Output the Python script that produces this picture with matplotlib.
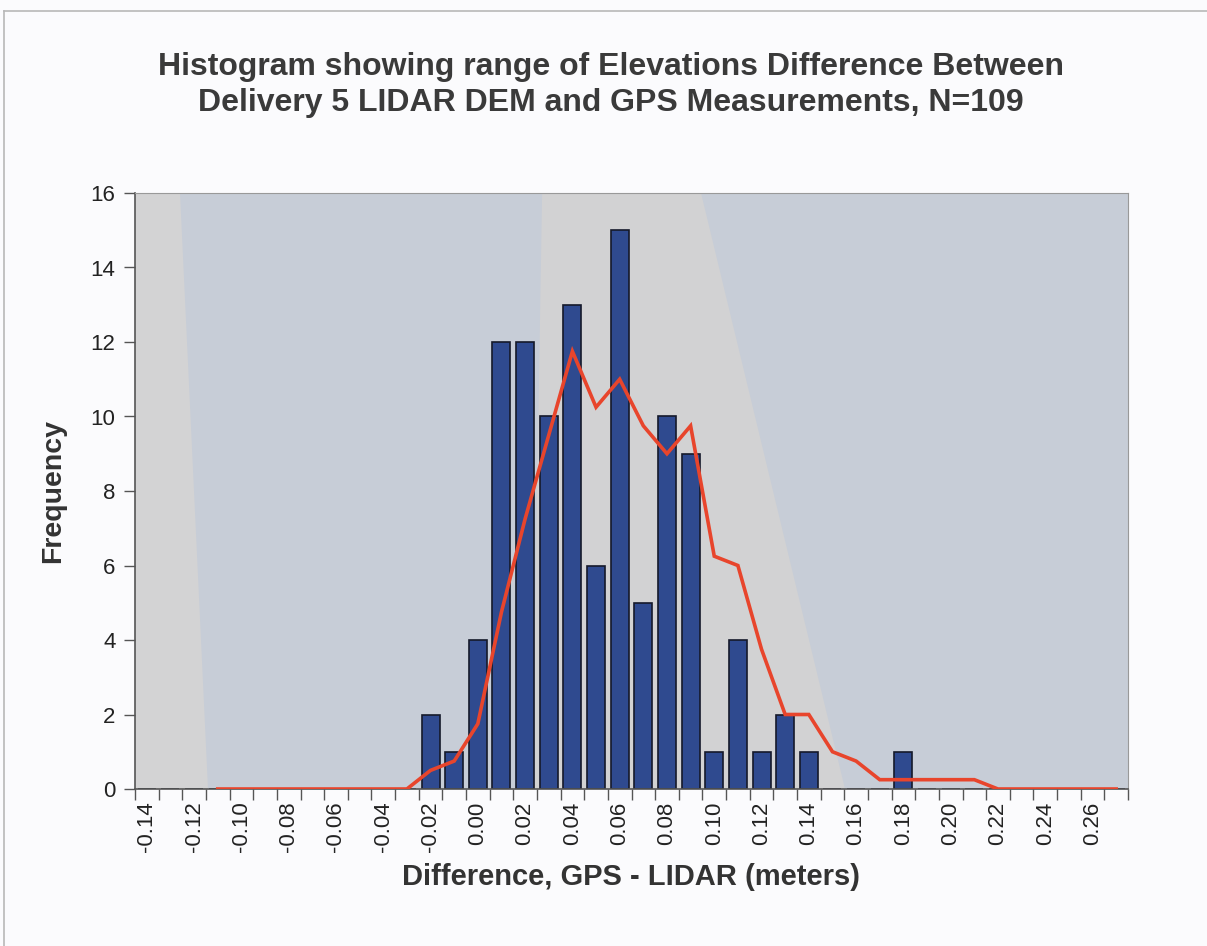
"""Histogram of elevation differences (GPS - LIDAR) with moving average line."""
import matplotlib
matplotlib.use('Agg')
import matplotlib.pyplot as plt
from matplotlib.patches import Polygon, Rectangle
from matplotlib.lines import Line2D
import numpy as np

# bin labels (-0.14 .. 0.27 step 0.01)
bins = ["-0.14", "-0.13", "-0.12", "-0.11", "-0.10", "-0.09", "-0.08", "-0.07",
        "-0.06", "-0.05", "-0.04", "-0.03", "-0.02", "-0.01", "0.00", "0.01",
        "0.02", "0.03", "0.04", "0.05", "0.06", "0.07", "0.08", "0.09",
        "0.10", "0.11", "0.12", "0.13", "0.14", "0.15", "0.16", "0.17",
        "0.18", "0.19", "0.20", "0.21", "0.22", "0.23", "0.24", "0.25",
        "0.26", "0.27"]

# frequency of each bin
freq = [0, 0, 0, 0, 0, 0, 0, 0,
        0, 0, 0, 0, 2, 1, 4, 12,
        12, 10, 13, 6, 15, 5, 10, 9,
        1, 4, 1, 2, 1, 0, 0, 0,
        1, 0, 0, 0, 0, 0, 0, 0,
        0, 0]

# red line (moving average), starts at -0.11
avg_start = 3
avg_values = [0, 0, 0, 0, 0, 0, 0, 0, 0, 0.5, 0.75, 1.75, 4.75,
              7.25, 9.5, 11.75, 10.25, 11, 9.75, 9, 9.75, 6.25, 6,
              3.75, 2, 2, 1, 0.75, 0.25, 0.25, 0.25, 0.25, 0.25,
              0, 0, 0, 0, 0, 0]

title = ("Histogram showing range of Elevations Difference Between\n"
         "Delivery 5 LIDAR DEM and GPS Measurements, N=109")

plt.rcParams['font.family'] = ['Liberation Sans', 'DejaVu Sans']

fig = plt.figure(figsize=(12.07, 9.46), dpi=100)
fig.patch.set_facecolor('#fbfbfd')

# 外枠(上と左だけ見えている)
fig.add_artist(Line2D([4 / 1207, 4 / 1207], [0, 1 - 11 / 946],
                      transform=fig.transFigure, color='#b8b8b8', lw=1.2))
fig.add_artist(Line2D([4 / 1207, 1], [1 - 11 / 946, 1 - 11 / 946],
                      transform=fig.transFigure, color='#b8b8b8', lw=1.2))

ax = fig.add_axes([135 / 1207, 1 - 789 / 946, (1128 - 135) / 1207, (789 - 193) / 946])
ax.set_facecolor('#c7cdd7')

# 背景の明るい部分
ax.add_patch(Rectangle((0, 0), 0.045, 1, transform=ax.transAxes,
                       facecolor='#d3d3d4', edgecolor='none', zorder=0))
ax.add_patch(Polygon([(0.045, 1), (0.045, 0), (0.074, 0)], closed=True,
                     transform=ax.transAxes, facecolor='#d3d3d4',
                     edgecolor='none', zorder=0))
ax.add_patch(Polygon([(0.41, 1), (0.57, 1), (0.715, 0), (0.40, 0)], closed=True,
                     transform=ax.transAxes, facecolor='#d2d2d3',
                     edgecolor='none', zorder=0))

x = np.arange(len(bins))
ax.bar(x, freq, width=0.76, color='#2f4a8f', edgecolor='#15192a',
       linewidth=1.2, zorder=2)

x_avg = np.arange(avg_start, avg_start + len(avg_values))
ax.plot(x_avg, avg_values, color='#e8452c', lw=2.6, zorder=3,
        solid_joinstyle='miter')

ax.set_xlim(-0.5, len(bins) - 0.5)
ax.set_ylim(0, 16)
ax.set_yticks(np.arange(0, 17, 2))

# ラベルは0.02刻み, 目盛り線はビンの境界
ax.set_xticks(x[::2])
ax.set_xticklabels(bins[::2], rotation=90, fontsize=16, color='#222222')
ax.set_xticks(np.arange(-0.5, len(bins) - 0.4, 1), minor=True)
ax.tick_params(axis='x', which='major', length=0, pad=9)
ax.tick_params(axis='x', which='minor', length=8, width=1, color='#555555',
               direction='out')
ax.tick_params(axis='y', length=8, width=1, color='#555555', labelsize=16,
               labelcolor='#222222', pad=6)

for side in ['top', 'right']:
    ax.spines[side].set_color('#999999')
for side in ['left', 'bottom']:
    ax.spines[side].set_color('#555555')
    ax.spines[side].set_linewidth(1.2)

ax.set_xlabel("Difference, GPS - LIDAR (meters)", fontsize=21,
              fontweight='bold', color='#333333', labelpad=8)
ax.set_ylabel("Frequency", fontsize=20.5, fontweight='bold', color='#333333',
              labelpad=18)

fig.text(611 / 1207, 1 - 85 / 946, title, ha='center', va='center',
         fontsize=23, fontweight='bold', color='#3a3a3a', linespacing=1.25)

fig.savefig('out.png', dpi=100, facecolor=fig.get_facecolor())
